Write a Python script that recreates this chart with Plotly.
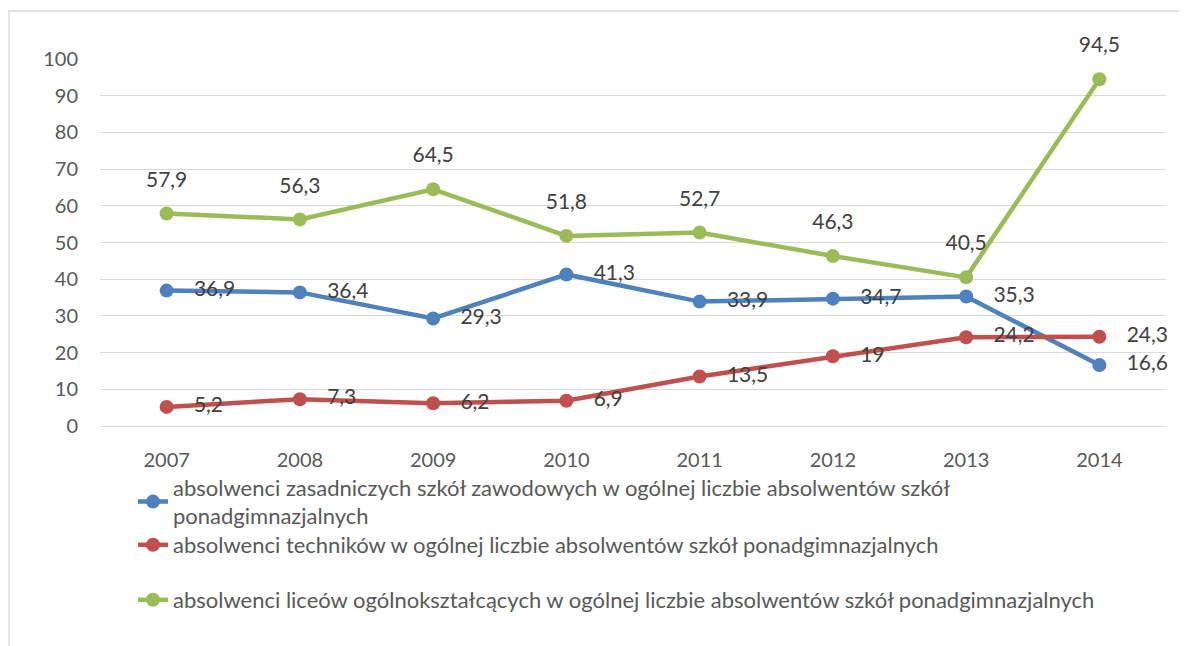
import plotly.graph_objects as go

years = ["2007", "2008", "2009", "2010", "2011", "2012", "2013", "2014"]
zasadnicze = [36.9, 36.4, 29.3, 41.3, 33.9, 34.7, 35.3, 16.6]
technika = [5.2, 7.3, 6.2, 6.9, 13.5, 19, 24.2, 24.3]
licea = [57.9, 56.3, 64.5, 51.8, 52.7, 46.3, 40.5, 94.5]
names = [
    "absolwenci zasadniczych szkół zawodowych w ogólnej liczbie absolwentów szkół<br>ponadgimnazjalnych",
    "absolwenci techników w ogólnej liczbie absolwentów szkół ponadgimnazjalnych",
    "absolwenci liceów ogólnokształcących w ogólnej liczbie absolwentów szkół ponadgimnazjalnych",
]
colors = ["#4F81BD", "#C0504D", "#9BBB59"]
label_pos = ["middle right", "middle right", "top center"]
series = [zasadnicze, technika, licea]

FONT = "Lato"
OFF = 8  # page body margin
W, H = 1187 - OFF, 646 - OFF
L, R, T, B = 100 - OFF, 1166 - OFF, 59 - OFF, 426 - OFF
pw, ph = R - L, B - T


def fmt(v):
    return f"{v:g}".replace(".", ",")


def px_x(px):
    return (px - OFF - L) / pw


def px_y(py):
    return (B - (py - OFF)) / ph


fig = go.Figure()
legend_ids = ["legend", "legend2", "legend3"]
for vals, name, col, lid in zip(series, names, colors, legend_ids):
    fig.add_trace(go.Scatter(
        x=years, y=vals, name=name, mode="lines+markers",
        line=dict(color=col, width=4.5),
        marker=dict(color=col, size=14),
        legend=lid, cliponaxis=False,
    ))

for vals, col, pos in zip(series, colors, label_pos):
    fig.add_trace(go.Scatter(
        x=years, y=vals, mode="markers+text",
        text=[fmt(v) for v in vals],
        textposition=pos,
        textfont=dict(family=FONT, size=21, color="#404040"),
        marker=dict(size=33 if pos == "top center" else 42, color="rgba(0,0,0,0)"),
        showlegend=False, hoverinfo="skip", cliponaxis=False,
    ))

legend_common = dict(
    font=dict(family=FONT, size=22, color="#595959"),
    bgcolor="rgba(0,0,0,0)", borderwidth=0,
    xanchor="left", yanchor="middle", itemclick=False,
)
legend_centers = [502, 545, 600]
layout_legends = {}
for lid, cy in zip(legend_ids, legend_centers):
    layout_legends[lid] = dict(legend_common, x=px_x(133), y=px_y(cy))

fig.update_layout(
    width=W, height=H,
    margin=dict(l=L, r=W - R, t=T, b=H - B),
    paper_bgcolor="white", plot_bgcolor="white",
    font=dict(family=FONT, size=20, color="#595959"),
    xaxis=dict(
        type="category", range=[-0.5, 7.5], showgrid=False, showline=False,
        ticks="outside", ticklen=16, tickcolor="rgba(0,0,0,0)",
        tickfont=dict(family=FONT, size=20, color="#595959"),
    ),
    yaxis=dict(
        range=[0, 100], dtick=10, showgrid=True, gridcolor="#D9D9D9", gridwidth=1.3,
        zeroline=True, zerolinecolor="#D9D9D9", zerolinewidth=1.3, showline=False,
        ticks="outside", ticklen=17, tickcolor="rgba(0,0,0,0)",
        tickfont=dict(family=FONT, size=20, color="#595959"),
    ),
    shapes=[dict(
        type="rect", xref="paper", yref="paper",
        x0=px_x(9), x1=px_x(1200), y0=px_y(660), y1=px_y(11),
        line=dict(color="#D9D9D9", width=1.3), fillcolor="rgba(0,0,0,0)", layer="below",
    )],
    **layout_legends,
)

fig.write_html("out.html")
